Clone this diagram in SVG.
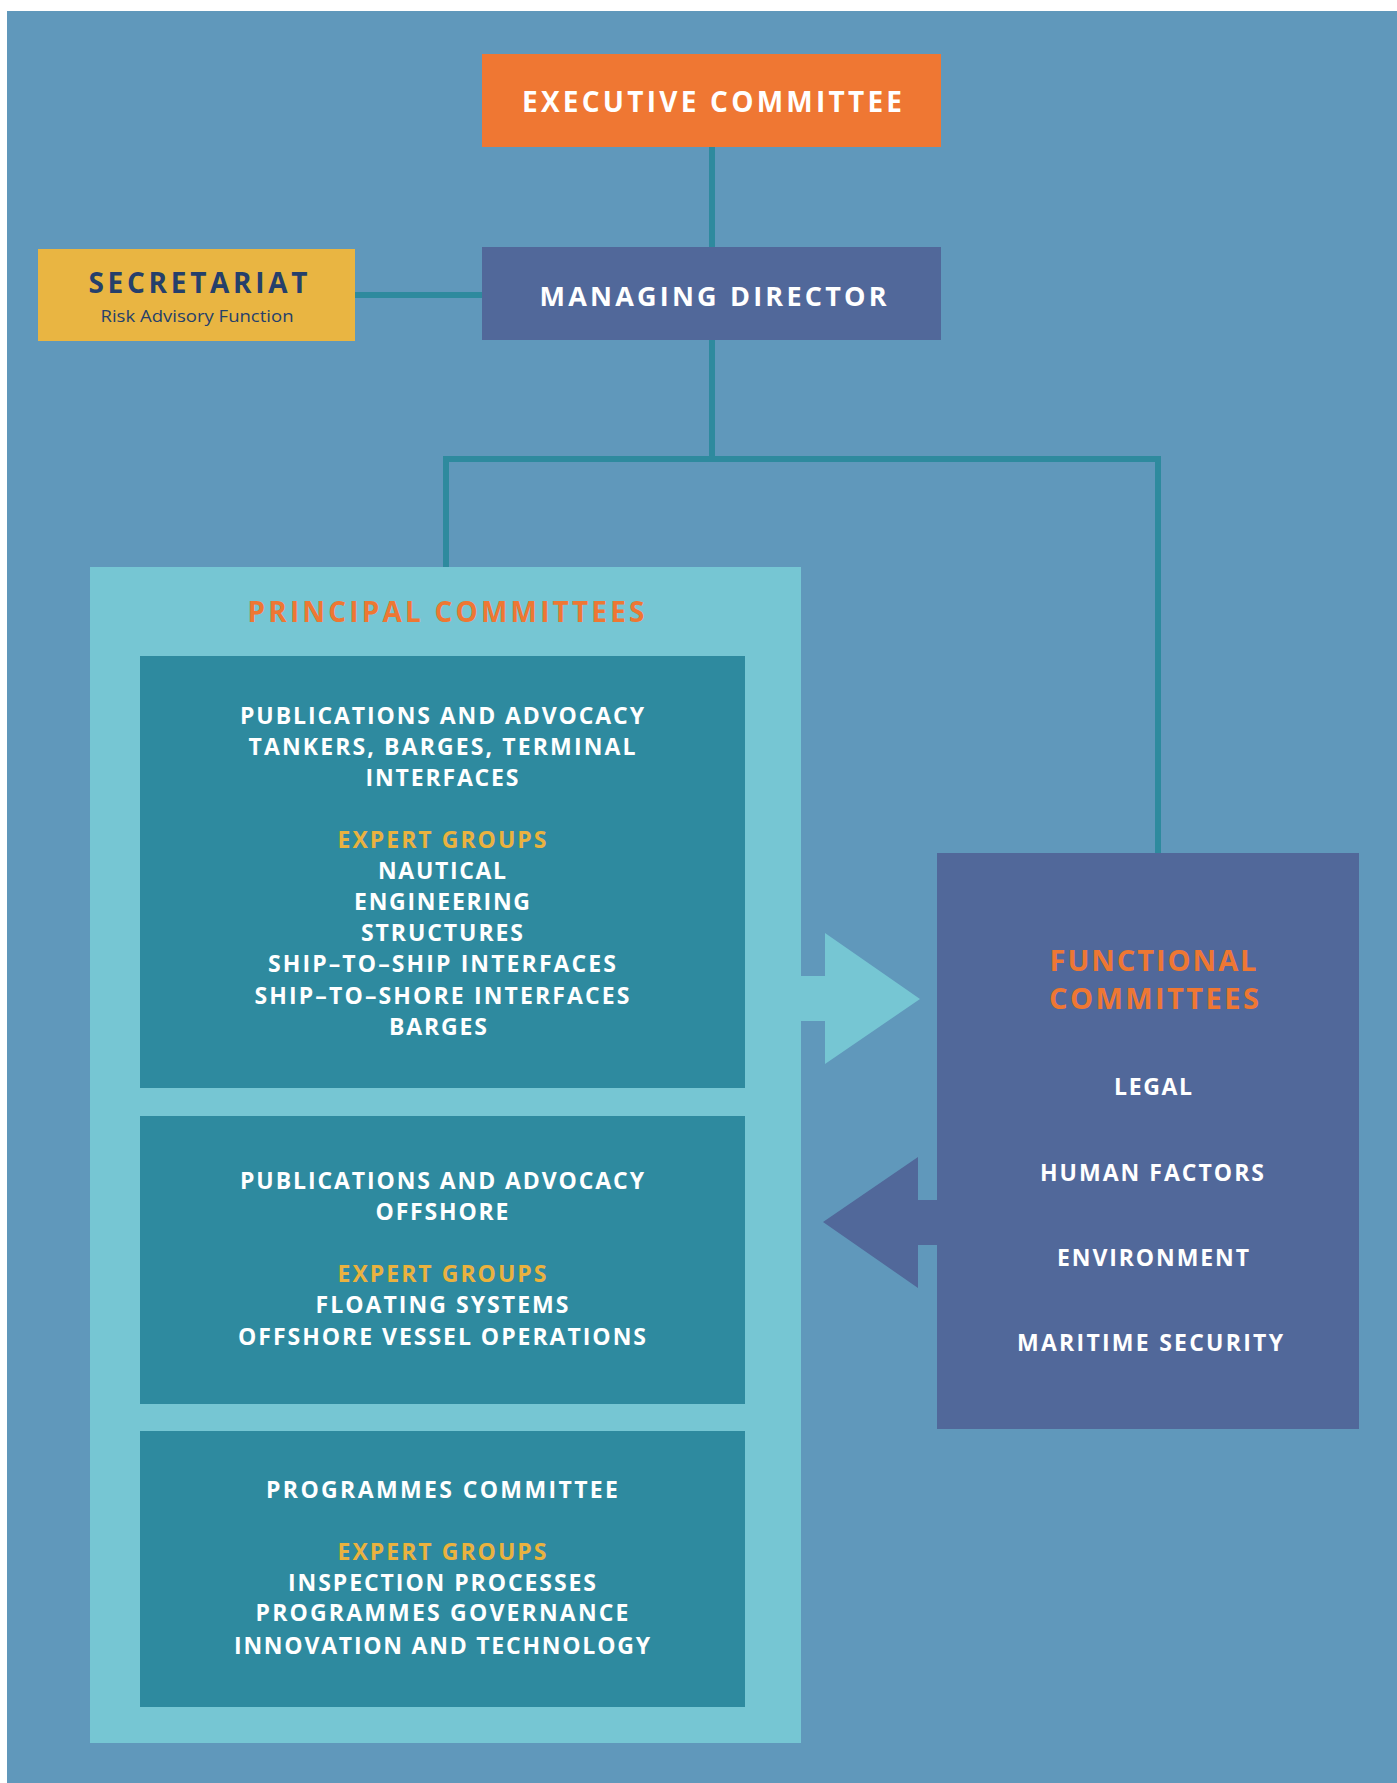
<svg xmlns="http://www.w3.org/2000/svg" width="1397" height="1783" viewBox="0 0 1397 1783">
<style>
.t{font-family:"Open Sans","Liberation Sans",sans-serif;font-weight:700;text-anchor:middle}
.w{fill:#ffffff}
.o{fill:#EE7733}
.y{fill:#EAB23F}
.n{fill:#253F6B}
.s{font-size:23px}
.h{font-size:28px}
.ln{stroke:#2E8A9E;stroke-width:6;fill:none}
</style>
<rect x="0" y="0" width="1397" height="1783" fill="#ffffff"/>
<rect x="7" y="11" width="1390" height="1772" fill="#6098BB"/>

<g id="connectors">
<line class="ln" x1="712" y1="147" x2="712" y2="247"/>
<line class="ln" x1="355" y1="295" x2="482" y2="295"/>
<polyline class="ln" points="712,340 712,459"/>
<polyline class="ln" points="446,567 446,459 1158,459 1158,853"/>
<polygon fill="#76C6D3" points="801,976 825,976 825,933 920,999 825,1064 825,1021 801,1021"/>
<polygon fill="#51689A" points="937,1200 918,1200 918,1157 823,1222 918,1288 918,1245 937,1245"/>
</g>

<g id="executive-committee">
<rect x="482" y="54" width="459" height="93" fill="#EF7733"/>
<text class="t w h" x="712" y="112" textLength="380" lengthAdjust="spacing">EXECUTIVE COMMITTEE</text>
</g>

<g id="managing-director">
<rect x="482" y="247" width="459" height="93" fill="#51689A"/>
<text class="t w" font-size="27" x="713" y="306" textLength="347" lengthAdjust="spacing">MANAGING DIRECTOR</text>
</g>

<g id="secretariat">
<rect x="38" y="249" width="317" height="92" fill="#E9B542"/>
<text class="t n h" x="198" y="293" textLength="219" lengthAdjust="spacing">SECRETARIAT</text>
<text class="n" x="197" y="322" font-family="'Open Sans','Liberation Sans',sans-serif" font-size="17" text-anchor="middle" textLength="193" lengthAdjust="spacingAndGlyphs">Risk Advisory Function</text>
</g>

<g id="principal-committees">
<rect x="90" y="567" width="711" height="1176" fill="#76C6D3"/>
<text class="t o h" x="446" y="622" textLength="397" lengthAdjust="spacing">PRINCIPAL COMMITTEES</text>
</g>

<g id="pc-tankers">
<rect x="140" y="656" width="605" height="432" fill="#2E8A9F"/>
<text class="t w s" x="442" y="724" textLength="404" lengthAdjust="spacing">PUBLICATIONS AND ADVOCACY</text>
<text class="t w s" x="442" y="755" textLength="387" lengthAdjust="spacing">TANKERS, BARGES, TERMINAL</text>
<text class="t w s" x="442" y="786" textLength="153" lengthAdjust="spacing">INTERFACES</text>
<text class="t y s" x="442" y="848" textLength="209" lengthAdjust="spacing">EXPERT GROUPS</text>
<text class="t w s" x="442" y="879" textLength="128" lengthAdjust="spacing">NAUTICAL</text>
<text class="t w s" x="442" y="910" textLength="176" lengthAdjust="spacing">ENGINEERING</text>
<text class="t w s" x="442" y="941" textLength="162" lengthAdjust="spacing">STRUCTURES</text>
<text class="t w s" x="442" y="972" textLength="348" lengthAdjust="spacing">SHIP–TO–SHIP INTERFACES</text>
<text class="t w s" x="442" y="1004" textLength="375" lengthAdjust="spacing">SHIP–TO–SHORE INTERFACES</text>
<text class="t w s" x="438" y="1035" textLength="98" lengthAdjust="spacing">BARGES</text>
</g>

<g id="pc-offshore">
<rect x="140" y="1116" width="605" height="288" fill="#2E8A9F"/>
<text class="t w s" x="442" y="1189" textLength="404" lengthAdjust="spacing">PUBLICATIONS AND ADVOCACY</text>
<text class="t w s" x="442" y="1220" textLength="133" lengthAdjust="spacing">OFFSHORE</text>
<text class="t y s" x="442" y="1282" textLength="209" lengthAdjust="spacing">EXPERT GROUPS</text>
<text class="t w s" x="442" y="1313" textLength="253" lengthAdjust="spacing">FLOATING SYSTEMS</text>
<text class="t w s" x="442" y="1345" textLength="408" lengthAdjust="spacing">OFFSHORE VESSEL OPERATIONS</text>
</g>

<g id="pc-programmes">
<rect x="140" y="1431" width="605" height="276" fill="#2E8A9F"/>
<text class="t w s" x="442" y="1498" textLength="352" lengthAdjust="spacing">PROGRAMMES COMMITTEE</text>
<text class="t y s" x="442" y="1560" textLength="209" lengthAdjust="spacing">EXPERT GROUPS</text>
<text class="t w s" x="442" y="1591" textLength="308" lengthAdjust="spacing">INSPECTION PROCESSES</text>
<text class="t w s" x="442" y="1621" textLength="373" lengthAdjust="spacing">PROGRAMMES GOVERNANCE</text>
<text class="t w s" x="442" y="1654" textLength="416" lengthAdjust="spacing">INNOVATION AND TECHNOLOGY</text>
</g>

<g id="functional-committees">
<rect x="937" y="853" width="422" height="576" fill="#51689A"/>
<text class="t o" font-size="29" x="1153" y="971" textLength="207" lengthAdjust="spacing">FUNCTIONAL</text>
<text class="t o" font-size="29" x="1154" y="1009" textLength="210" lengthAdjust="spacing">COMMITTEES</text>
<text class="t w s" x="1153" y="1095" textLength="78" lengthAdjust="spacing">LEGAL</text>
<text class="t w s" x="1152" y="1181" textLength="224" lengthAdjust="spacing">HUMAN FACTORS</text>
<text class="t w s" x="1153" y="1266" textLength="192" lengthAdjust="spacing">ENVIRONMENT</text>
<text class="t w s" x="1150" y="1351" textLength="266" lengthAdjust="spacing">MARITIME SECURITY</text>
</g>
</svg>
